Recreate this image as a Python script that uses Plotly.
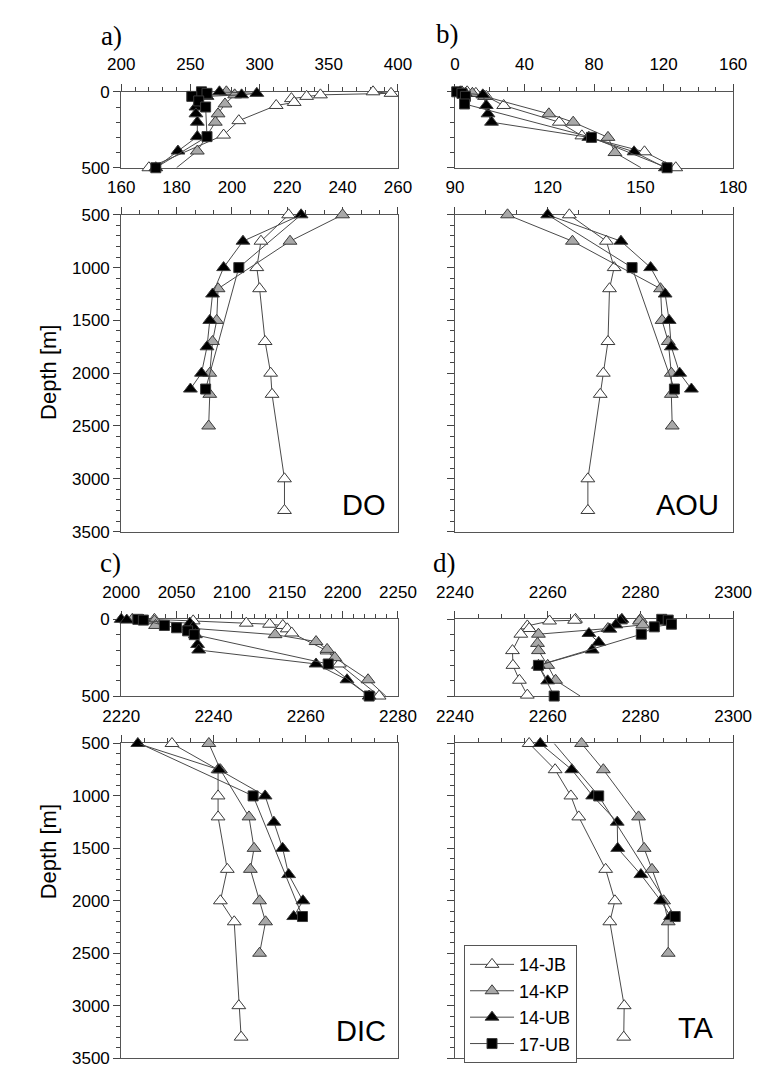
import plotly.graph_objects as go

NAMES = ["14-JB", "14-KP", "14-UB", "17-UB"]

# ---------------- upper 0-500 m (shallow panels) ----------------
DO_TOP_Z = {
    "14-JB": [0, 10, 20, 30, 45, 70, 90, 190, 285, 500],
    "14-KP": [0, 20, 80, 145, 200, 390, 500],
    "14-UB": [0, 10, 20, 30, 100, 145, 200, 295, 390, 500],
    "17-UB": [0, 10, 30, 60, 100, 295, 500],
}
DO_TOP_JB = [382, 395, 344, 334, 323, 325, 312, 285, 274, 220]
DO_TOP_KP = [276, 282, 275, 270, 268, 255, 240]
DO_TOP_UB = [271, 298, 287, 262, 254, 254, 255, 255, 241, 225]
DO_TOP_SQ = [258, 262, 251, 256, 261, 262, 225]

AOU_TOP_Z = {
    "14-JB": [0, 10, 30, 90, 200, 290, 395, 500],
    "14-KP": [0, 10, 30, 145, 200, 300, 400, 500],
    "14-UB": [0, 10, 20, 90, 145, 200, 300, 395, 500],
    "17-UB": [0, 10, 30, 80, 300, 500],
}
AOU_TOP_JB = [7, 12, 18, 28, 60, 73, 109, 127]
AOU_TOP_KP = [4, 10, 17, 54, 68, 88, 92, 107]
AOU_TOP_UB = [3, 6, 16, 18, 19, 21, 77, 103, 121]
AOU_TOP_SQ = [1, 4, 6, 5.5, 78.5, 122]

DIC_TOP_Z = {
    "14-JB": [0, 10, 25, 32, 40, 62, 89, 206, 291, 500],
    "14-KP": [0, 10, 40, 100, 145, 196, 250, 394, 500],
    "14-UB": [0, 5, 25, 50, 100, 164, 200, 291, 394, 500],
    "17-UB": [0, 5, 40, 55, 75, 100, 291, 500],
}
DIC_TOP_JB = [2030, 2065, 2113, 2134, 2146, 2150, 2154, 2186, 2197, 2233]
DIC_TOP_KP = [2010, 2030, 2031, 2139, 2176, 2186, 2193, 2223, 2239]
DIC_TOP_UB = [2000, 2005, 2062, 2065, 2067, 2069, 2070, 2176, 2204, 2224]
DIC_TOP_SQ = [2015, 2020, 2039, 2050, 2060, 2066, 2187, 2224]

TA_TOP_Z = {
    "14-JB": [0, 6, 11, 43, 60, 97, 204, 300, 397, 494],
    "14-KP": [0, 11, 36, 60, 97, 157, 204, 300, 397, 500],
    "14-UB": [0, 10, 36, 64, 92, 150, 200, 300, 401],
    "17-UB": [0, 5, 32, 49, 97, 300, 500],
}
TA_TOP_JB = [2266, 2265.8, 2260.4, 2255.6, 2256, 2254.2, 2252.4, 2252.5, 2253.9, 2255.6]
TA_TOP_KP = [2280, 2279.8, 2280.5, 2273, 2258, 2257.8, 2258, 2260, 2261.7, 2267]
TA_TOP_UB = [2276, 2275.7, 2274.7, 2273.4, 2268.9, 2271, 2269.6, 2258, 2260]
TA_TOP_SQ = [2284.6, 2286, 2286.7, 2283, 2280.2, 2258, 2261.4]

# ---------------- deep 500-3500 m panels ----------------
DEEP_Z = {
    "14-JB": [500, 750, 1000, 1200, 1700, 2000, 2200, 3000, 3300],
    "14-KP": [500, 750, 1200, 1500, 1700, 2000, 2200, 2500],
    "14-UB": [500, 750, 1000, 1250, 1500, 1750, 2000, 2150],
    "17-UB": [500, 1000, 2150],
}
DO_DEEP_JB = [220.5, 210.5, 209, 210, 212, 214, 214.5, 219, 219]
DO_DEEP_KP = [240, 221, 195, 194.5, 193, 192, 192, 191.6]
DO_DEEP_UB = [225, 204, 197, 193, 192, 191, 189, 185]
DO_DEEP_SQ = [225, 202.5, 190.5]

AOU_DEEP_JB = [127, 139, 141.5, 140, 139.5, 138, 137, 133, 133]
AOU_DEEP_KP = [107, 128, 156.5, 157, 159, 160, 160, 160.3]
AOU_DEEP_UB = [120, 143.7, 153.3, 158, 159.3, 160, 162.7, 166.5]
AOU_DEEP_SQ = [120, 147.3, 161]

DIC_DEEP_JB = [2231, 2241, 2241, 2241, 2243, 2241.5, 2244.5, 2245.5, 2246]
DIC_DEEP_KP = [2239, 2241.5, 2247.7, 2248.8, 2248, 2250, 2251.3, 2250]
DIC_DEEP_UB = [2223.6, 2241.2, 2251.2, 2253.1, 2255, 2256.3, 2259.4, 2257.4]
DIC_DEEP_SQ = [2224, 2248.6, 2259.3]

TA_DEEP_JB = [2256, 2261.6, 2265, 2266.7, 2272.5, 2274.5, 2273.4, 2276.5, 2276.4]
TA_DEEP_KP = [2267.3, 2272, 2279.6, 2280.8, 2282.5, 2285, 2286, 2286]
TA_DEEP_UB = [2258.4, 2265.2, 2269.7, 2275, 2275.1, 2280.1, 2284.4, 2286.5]
TA_DEEP_SQ = [2261.4, 2271, 2287.5]

# axis ranges / ticks
X_RANGES = {
    1: ([200, 400], 50, 10), 2: ([0, 160], 40, 10),
    3: ([160, 260], 20, 20 / 3), 4: ([90, 180], 30, 10),
    5: ([2000, 2250], 50, 10), 6: ([2240, 2300], 20, 5),
    7: ([2220, 2280], 20, 5), 8: ([2240, 2300], 20, 5),
}

STYLE = {
    "14-JB": dict(symbol="triangle-up", color="white", size=12),
    "14-KP": dict(symbol="triangle-up", color="#a8a8a8", size=12),
    "14-UB": dict(symbol="triangle-up", color="black", size=12),
    "17-UB": dict(symbol="square", color="black", size=10),
}
LINE_COLOR = "#4a4a4a"
W, H = 774, 1075

fig = go.Figure()


def add_panel(n, zdict, values, top):
    xa = "x" if n == 1 else f"x{n}"
    ya = "y" if n == 1 else f"y{n}"
    for name, v in zip(NAMES, values):
        z = zdict[name]
        fig.add_trace(go.Scatter(x=v, y=z, mode="lines", xaxis=xa, yaxis=ya,
                                 line=dict(color=LINE_COLOR, width=1),
                                 showlegend=False, hoverinfo="skip"))
        if top:
            keep = [i for i, d in enumerate(z) if not (name == "14-KP" and d >= 500)]
        else:
            keep = [i for i, d in enumerate(z) if not (name == "17-UB" and d <= 500)]
        st = STYLE[name]
        fig.add_trace(go.Scatter(x=[v[i] for i in keep], y=[z[i] for i in keep],
                                 mode="markers", xaxis=xa, yaxis=ya, cliponaxis=False,
                                 marker=dict(symbol=st["symbol"], size=st["size"], color=st["color"],
                                             line=dict(color="#3a3a3a", width=1)),
                                 showlegend=False, hoverinfo="skip"))


add_panel(1, DO_TOP_Z, [DO_TOP_JB, DO_TOP_KP, DO_TOP_UB, DO_TOP_SQ], True)
add_panel(2, AOU_TOP_Z, [AOU_TOP_JB, AOU_TOP_KP, AOU_TOP_UB, AOU_TOP_SQ], True)
add_panel(3, DEEP_Z, [DO_DEEP_JB, DO_DEEP_KP, DO_DEEP_UB, DO_DEEP_SQ], False)
add_panel(4, DEEP_Z, [AOU_DEEP_JB, AOU_DEEP_KP, AOU_DEEP_UB, AOU_DEEP_SQ], False)
add_panel(5, DIC_TOP_Z, [DIC_TOP_JB, DIC_TOP_KP, DIC_TOP_UB, DIC_TOP_SQ], True)
add_panel(6, TA_TOP_Z, [TA_TOP_JB, TA_TOP_KP, TA_TOP_UB, TA_TOP_SQ], True)
add_panel(7, DEEP_Z, [DIC_DEEP_JB, DIC_DEEP_KP, DIC_DEEP_UB, DIC_DEEP_SQ], False)
add_panel(8, DEEP_Z, [TA_DEEP_JB, TA_DEEP_KP, TA_DEEP_UB, TA_DEEP_SQ], False)

# legend entries
for name in NAMES:
    st = STYLE[name]
    fig.add_trace(go.Scatter(x=[None], y=[None], mode="lines+markers", name=name,
                             xaxis="x8", yaxis="y8",
                             line=dict(color=LINE_COLOR, width=1),
                             marker=dict(symbol=st["symbol"], size=st["size"], color=st["color"],
                                         line=dict(color="#3a3a3a", width=1))))

XL = [107.5 / W, 398.5 / W]
XR = [458.5 / W, 751 / W]
ROWS = {"atop": (84.3, 161.6), "abot": (209.5, 532), "ctop": (621.3, 699.4), "cbot": (747.7, 1068)}


def ydom(key):
    t, b = ROWS[key]
    return [1 - b / H, 1 - t / H]


FONT = "Liberation Sans, Arial, sans-serif"
layout = dict(width=W, height=H, margin=dict(l=0, r=0, t=0, b=0),
              paper_bgcolor="white", plot_bgcolor="white",
              font=dict(family=FONT, size=17, color="black"))

panel_pos = {1: (XL, "atop"), 2: (XR, "atop"), 3: (XL, "abot"), 4: (XR, "abot"),
             5: (XL, "ctop"), 6: (XR, "ctop"), 7: (XL, "cbot"), 8: (XR, "cbot")}
for n, (xd, row) in panel_pos.items():
    rng, dt, mdt = X_RANGES[n]
    top = row.endswith("top")
    xk = "xaxis" if n == 1 else f"xaxis{n}"
    yk = "yaxis" if n == 1 else f"yaxis{n}"
    ya = "y" if n == 1 else f"y{n}"
    xa = "x" if n == 1 else f"x{n}"
    layout[xk] = dict(domain=xd, range=rng, side="top", anchor=ya, tick0=rng[0], dtick=dt,
                      ticks="outside", ticklen=7, tickwidth=1, tickcolor="#444",
                      minor=dict(ticks="outside", ticklen=4, tick0=rng[0], dtick=mdt, tickcolor="#444"),
                      showline=True, linecolor="#555", linewidth=1, mirror=True,
                      showgrid=False, zeroline=False, layer="below traces",
                      ticklabelstandoff=7, tickfont=dict(size=17))
    yr = [500, 0] if top else [3500, 500]
    layout[yk] = dict(domain=ydom(row), range=yr, anchor=xa, tick0=0, dtick=500,
                      ticks="outside", ticklen=7, tickwidth=1, tickcolor="#444",
                      minor=dict(ticks="outside", ticklen=4, tick0=0, dtick=100, tickcolor="#444"),
                      showline=True, linecolor="#555", linewidth=1, mirror=True,
                      showgrid=False, zeroline=False, layer="below traces",
                      showticklabels=(xd is XL), tickfont=dict(size=17))

layout["legend"] = dict(x=468 / W, y=1 - 953 / H, xanchor="left", yanchor="top",
                        bordercolor="#555", borderwidth=1, bgcolor="white",
                        font=dict(size=18), tracegroupgap=0, itemwidth=44)

ann = []
for txt, px, py in [("a)", 97, 27), ("b)", 451, 25), ("c)", 96, 564), ("d)", 447, 564)]:
    ann.append(dict(text=txt, x=px / W, y=1 - py / H, xref="paper", yref="paper",
                    showarrow=False, xanchor="center", yanchor="middle",
                    font=dict(family="Liberation Serif, Times New Roman, serif", size=27)))
for txt, px, py in [("DO", 363, 505), ("AOU", 703, 505), ("DIC", 360, 1040), ("TA", 712, 1037)]:
    ann.append(dict(text=txt, x=px / W, y=1 - py / H, xref="paper", yref="paper",
                    showarrow=False, xanchor="center", yanchor="middle",
                    font=dict(size=29)))
for py in [370, 858]:
    ann.append(dict(text="Depth [m]", x=31 / W, y=1 - py / H, xref="paper", yref="paper",
                    showarrow=False, textangle=-90, xanchor="center", yanchor="middle",
                    font=dict(size=22)))
layout["annotations"] = ann

fig.update_layout(**layout)
fig.write_html("out.html")
